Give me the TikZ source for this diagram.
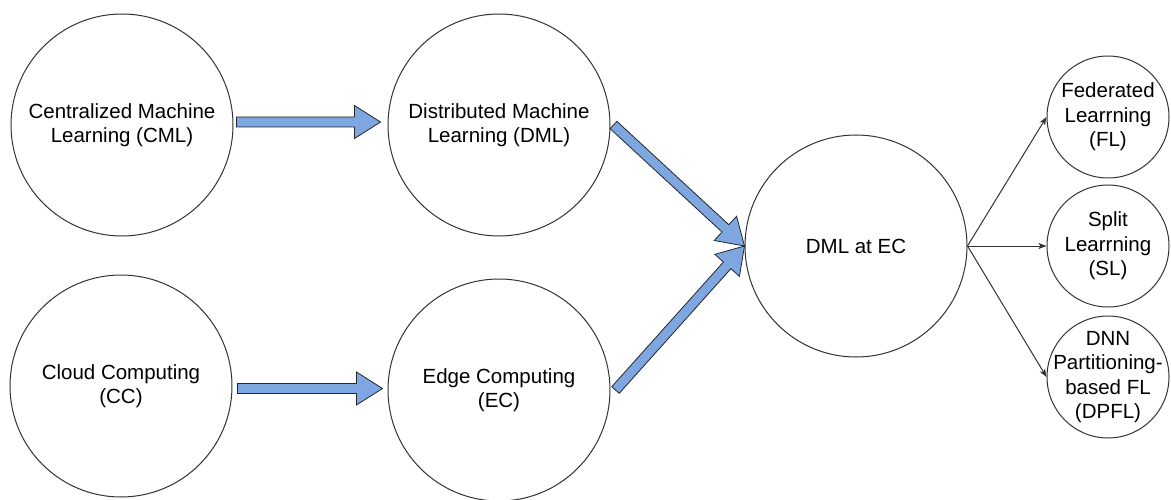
\documentclass[tikz,border=0pt]{standalone}
\usepackage{fontspec}
\setmainfont{Liberation Sans}
\usetikzlibrary{calc,arrows.meta}
\definecolor{arrowblue}{HTML}{7EA6E0}
\definecolor{edgegray}{HTML}{333333}
\tikzset{
  topic/.style={circle, draw=edgegray, line width=1pt, inner sep=0pt,
    minimum size=222pt, align=center, font=\fontsize{20.5}{24.5}\selectfont},
  % small circles: the text may reach past the circle's inscribed box
  method/.style={topic, minimum size=122pt, inner sep=-20pt},
  fatbody/.style={fill=arrowblue, draw=black!85, line width=0.8pt, line join=miter},
  branch/.style={draw=edgegray, line width=1pt,
    -{Stealth[length=8pt,width=6pt,inset=2pt]}}
}
% block arrow with a rectangular shaft and a triangular head, from #1 to #2
\newcommand\blockconnector[2]{%
  \coordinate (fa-s) at (#1);
  \coordinate (fa-e) at (#2);
  \coordinate (fa-b) at ($(fa-e)!26pt!(fa-s)$);
  \draw[fatbody] ($(fa-s)!5pt!90:(fa-e)$) -- ($(fa-b)!5pt!90:(fa-e)$)
    -- ($(fa-b)!16.5pt!90:(fa-e)$) -- (fa-e)
    -- ($(fa-b)!16.5pt!-90:(fa-e)$) -- ($(fa-b)!5pt!-90:(fa-e)$)
    -- ($(fa-s)!5pt!-90:(fa-e)$) -- cycle;
}
\begin{document}
\begin{tikzpicture}[x=1pt, y=-1pt]
  \useasboundingbox (0,0) rectangle (1171,500);

  % main topics
  \node[topic] (cml) at (122,125) {Centralized Machine\\Learning (CML)};
  \node[topic] (dml) at (499,125) {Distributed Machine\\Learning (DML)};
  \node[topic] (cc) at (121,386) {Cloud Computing\\(CC)};
  \node[topic] (ec) at (499,390) {Edge Computing\\(EC)};
  \node[topic] (dmlec) at (856,246) {DML at EC};

  % resulting methods
  \node[method] (fl) at (1108,117) {Federated\\Learrning\\(FL)};
  \node[method] (sl) at (1108,246) {Split\\Learrning\\(SL)};
  \node[method] (dpfl) at (1108,377) {DNN\\Partitioning-\\based FL\\(DPFL)};

  % evolution arrows
  \blockconnector{$(cml.east)+(3,-3)$}{$(dml.west)+(-7,-3)$}
  \blockconnector{$(cc.east)+(5,2.5)$}{$(ec.west)+(-5,-1.5)$}
  \blockconnector{$(dml.east)+(3,0)$}{dmlec.west}
  \blockconnector{$(ec.east)+(5,0)$}{dmlec.west}

  % branches
  \draw[branch] (dmlec.east) -- (fl.west);
  \draw[branch] (dmlec.east) -- (sl.west);
  \draw[branch] (dmlec.east) -- (dpfl.west);
\end{tikzpicture}
\end{document}
